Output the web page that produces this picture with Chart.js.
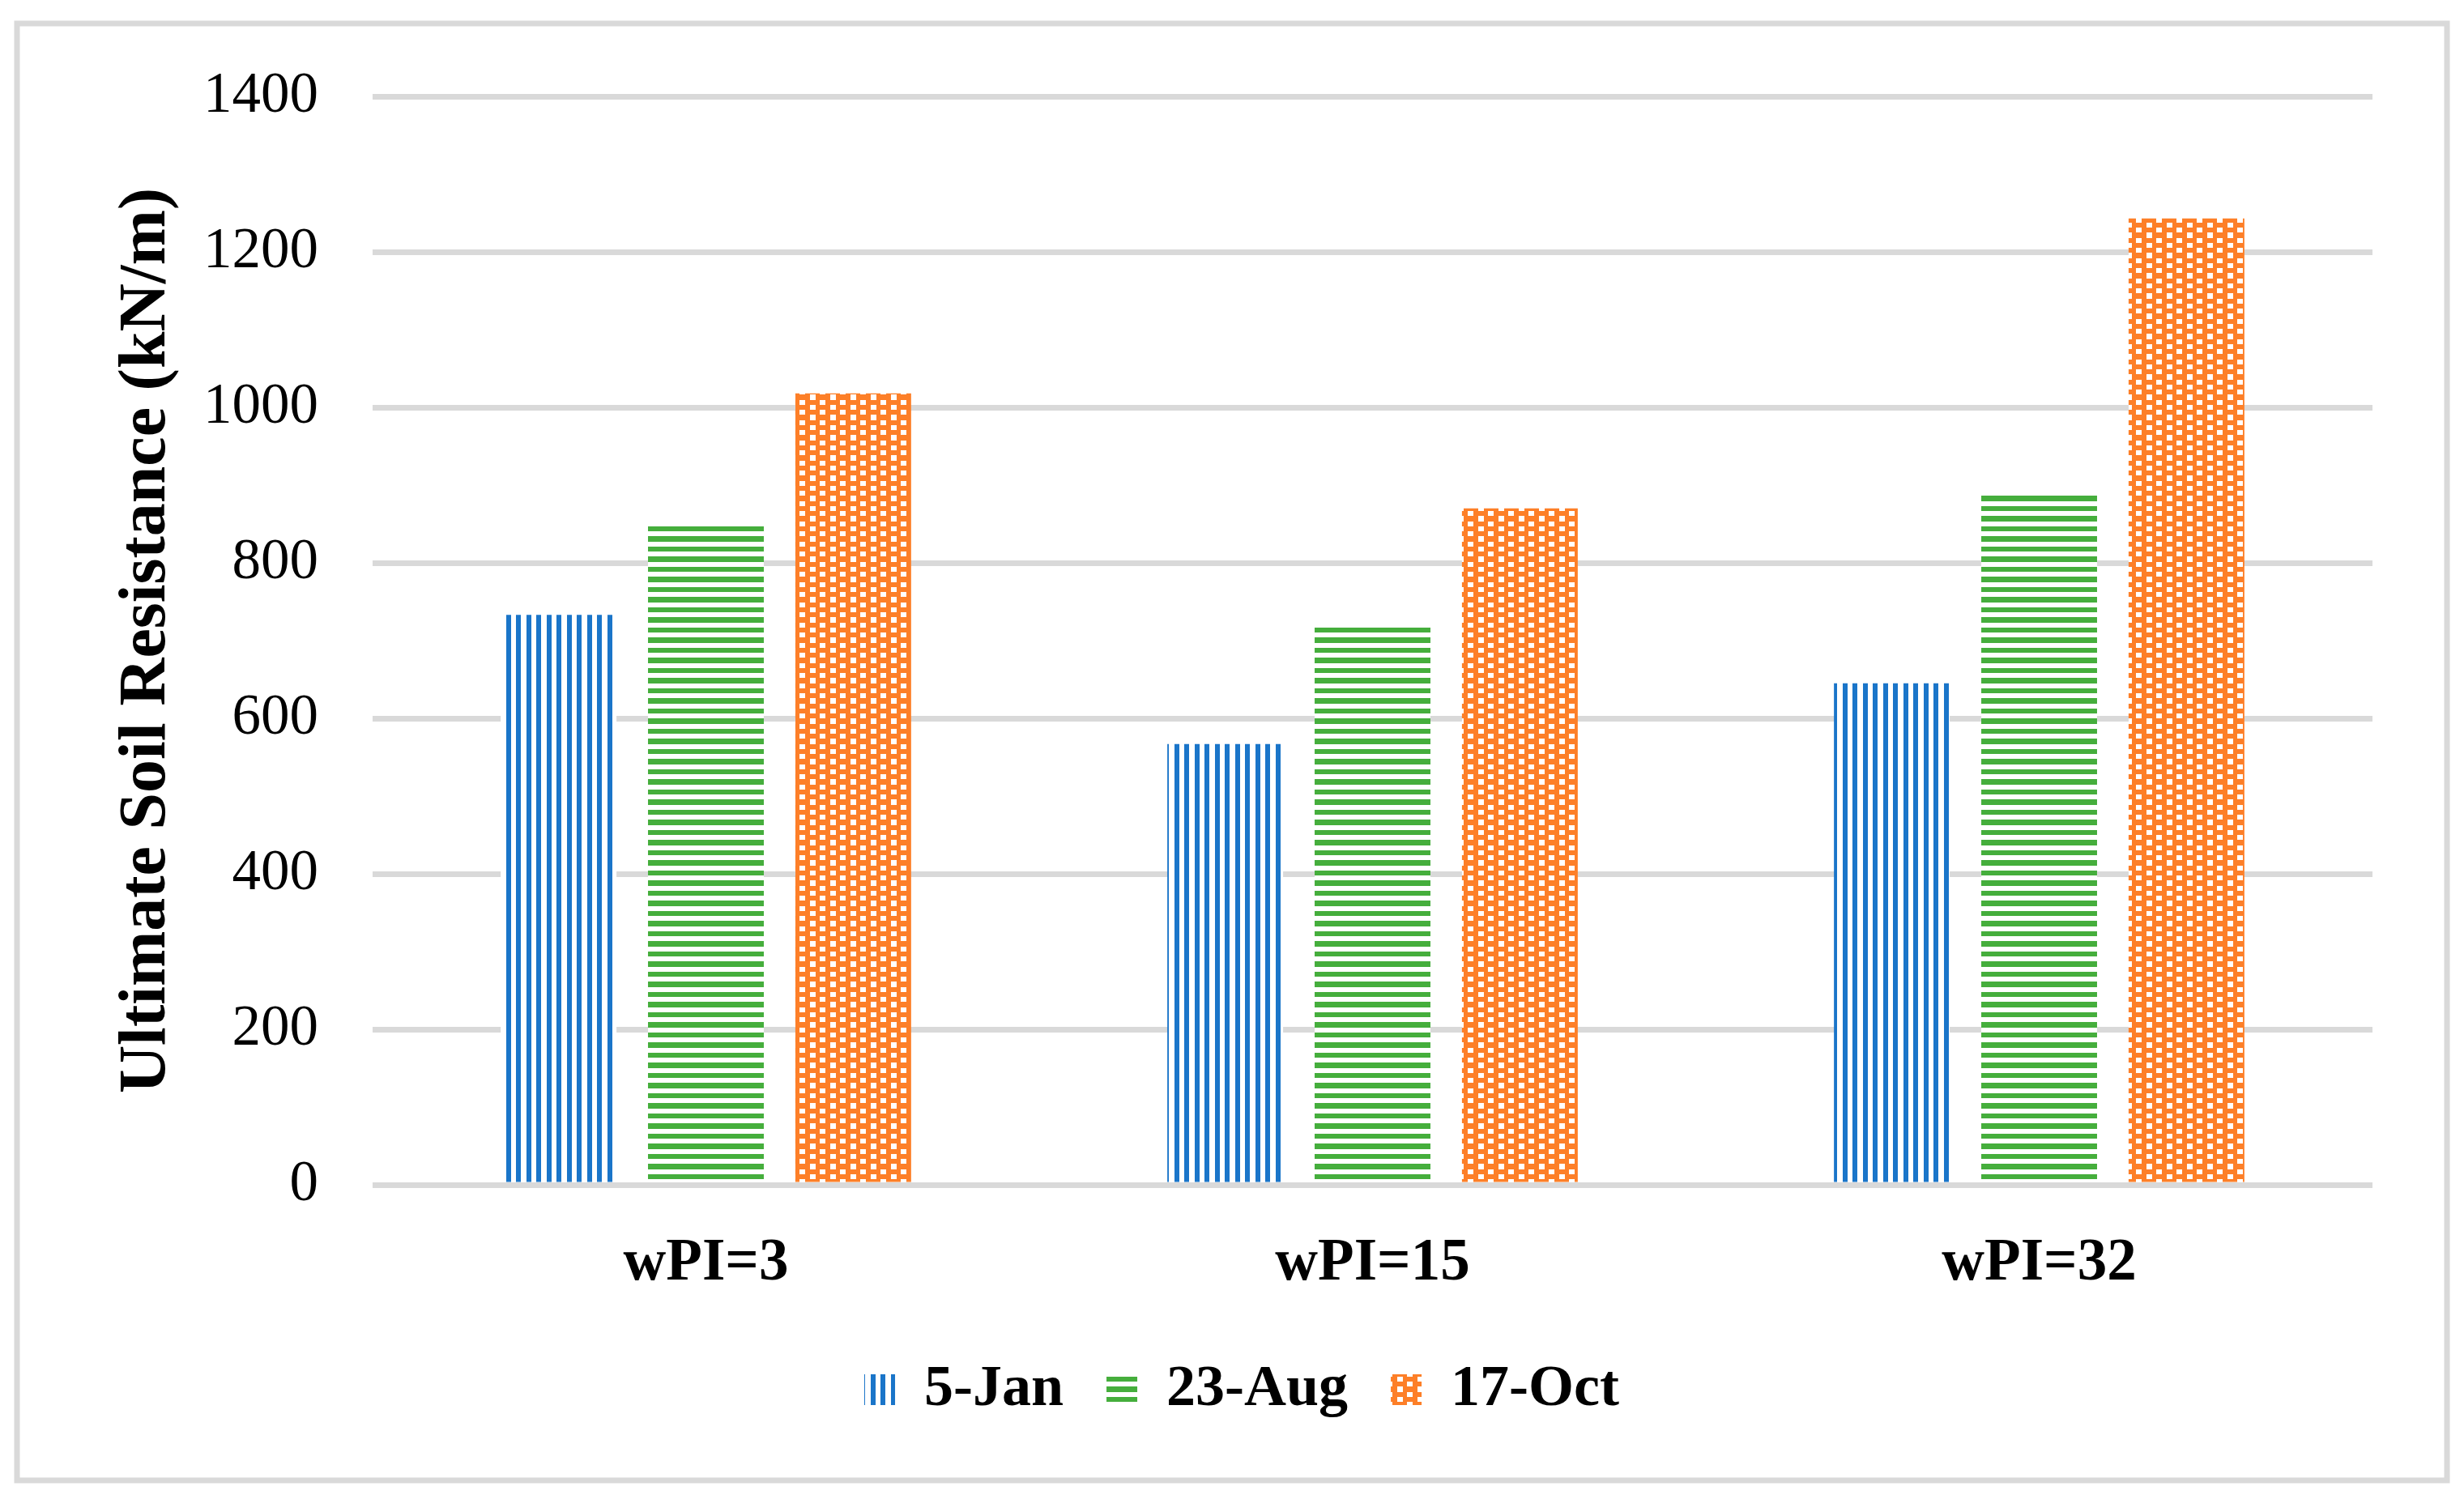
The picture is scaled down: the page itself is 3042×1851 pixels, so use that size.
<!DOCTYPE html>
<html>
<head>
<meta charset="utf-8">
<script src="https://cdn.jsdelivr.net/npm/chart.js@4"></script>
<style>body{margin:0;background:#fff}</style>
</head>
<body>
<canvas id="myChart" width="3042" height="1851"></canvas>
<script>
var categories = ['wPI=3', 'wPI=15', 'wPI=32'];
var seriesNames = ['5-Jan', '23-Aug', '17-Oct'];
var jan5 = [733, 567, 645];
var aug23 = [851, 718, 887];
var oct17 = [1018, 870, 1243];
var yMin = 0, yMax = 1400, yStep = 200;

var fontFamily = '"Liberation Serif", "Times New Roman", serif';

// 25px tiles with white background, like the Excel fill patterns
function makePattern(kind, color) {
    var c = document.createElement('canvas');
    c.width = 25; c.height = 25;
    var g = c.getContext('2d');
    g.fillStyle = '#fff';
    g.fillRect(0, 0, 25, 25);
    g.fillStyle = color;
    if (kind === 'vertical') {
        g.fillRect(0, 0, 6, 25);
        g.fillRect(12, 0, 6, 25);
    } else if (kind === 'horizontal') {
        g.fillRect(0, 0, 25, 6);
        g.fillRect(0, 12, 25, 7);
    } else {
        g.fillRect(0, 0, 25, 25);
        g.fillStyle = '#fff';
        g.fillRect(0, 0, 7, 6);
        g.fillRect(12, 6, 7, 6);
        g.fillRect(0, 12, 7, 7);
        g.fillRect(12, 19, 7, 6);
    }
    return g.createPattern(c, 'repeat');
}

var bluePattern = makePattern('vertical', '#1a75c9');
var greenPattern = makePattern('horizontal', '#45ae3c');
var orangePattern = makePattern('dots', '#fd7f28');

var frame = {
    id: 'frame',
    beforeDraw: function(chart) {
        var c = chart.ctx;
        c.save();
        c.fillStyle = '#fff';
        c.fillRect(0, 0, chart.width, chart.height);
        c.strokeStyle = '#d9d9d9';
        c.lineWidth = 7;
        c.strokeRect(21, 29, 3000, 1799);
        c.restore();
    }
};

var ctx = document.getElementById('myChart').getContext('2d');
var myChart = new Chart(ctx, {
    type: 'bar',
    data: {
        labels: categories,
        datasets: [{
            label: seriesNames[0],
            data: jan5,
            backgroundColor: bluePattern,
            borderWidth: 0
        }, {
            label: seriesNames[1],
            data: aug23,
            backgroundColor: greenPattern,
            borderWidth: 0
        }, {
            label: seriesNames[2],
            data: oct17,
            backgroundColor: orangePattern,
            borderWidth: 0
        }]
    },
    options: {
        responsive: false,
        devicePixelRatio: 1,
        animation: false,
        categoryPercentage: 0.663,
        barPercentage: 0.786,
        layout: {
            padding: { left: 24, right: 0, top: 119, bottom: 89 }
        },
        plugins: {
            tooltip: { enabled: false },
            legend: {
                position: 'bottom',
                labels: {
                    boxWidth: 38,
                    boxHeight: 38,
                    padding: 53,
                    color: '#000',
                    font: { family: fontFamily, size: 72, weight: 'bold' }
                }
            }
        },
        scales: {
            x: {
                grid: { display: false },
                border: { display: false },
                ticks: {
                    color: '#000',
                    padding: 46,
                    font: { family: fontFamily, size: 73, weight: 'bold' }
                },
                afterFit: function(scale) { scale.height = 164; }
            },
            y: {
                min: yMin,
                max: yMax,
                border: { display: false },
                grid: { color: '#d9d9d9', lineWidth: 7, drawTicks: false },
                ticks: {
                    stepSize: yStep,
                    color: '#000',
                    padding: 67,
                    font: { family: fontFamily, size: 71 },
                    callback: function(value) { return String(value); }
                },
                title: {
                    display: true,
                    text: 'Ultimate Soil Resistance (kN/m)',
                    color: '#000',
                    padding: { top: 109, bottom: 0 },
                    font: { family: fontFamily, size: 82, weight: 'bold' }
                },
                afterFit: function(scale) { scale.width = 436; }
            },
            yRight: {
                type: 'linear',
                position: 'right',
                display: true,
                grid: { display: false },
                border: { display: false },
                ticks: { display: false },
                afterFit: function(scale) { scale.width = 113; }
            }
        }
    },
    plugins: [frame]
});
</script>
</body>
</html>
